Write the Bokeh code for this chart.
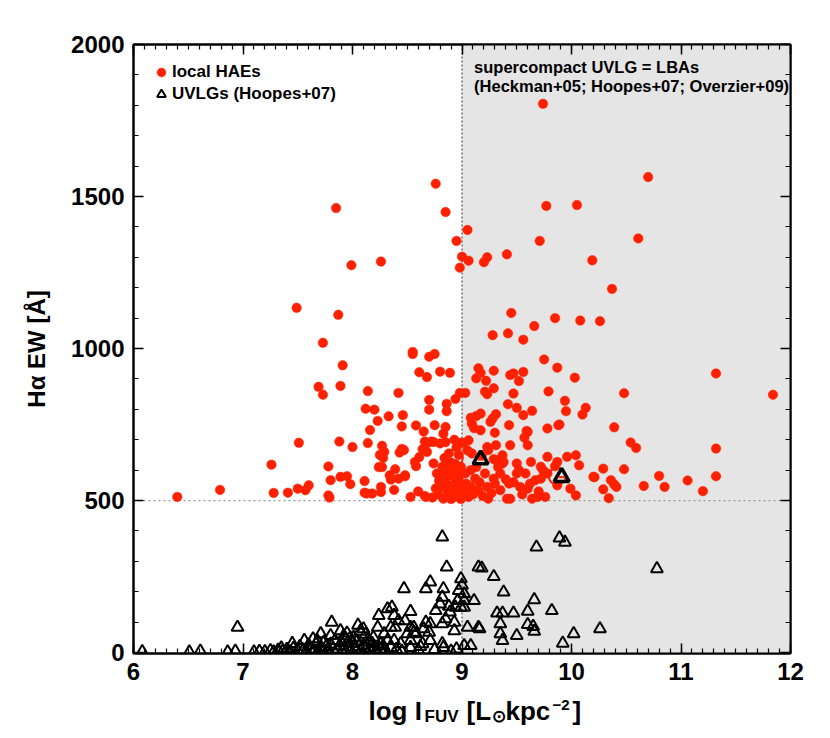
from bokeh.plotting import figure
from bokeh.layouts import column
from bokeh.models import (Range1d, LinearAxis, BoxAnnotation, Span, Label, Legend,
                          LegendItem, SingleIntervalTicker, CustomJSTickFormatter)
from bokeh.core.properties import value
from bokeh.embed import file_html
from bokeh.resources import INLINE

# ---------------- data ----------------
hae_x = [9.74, 10.70, 8.76, 7.85, 8.85, 9.77, 10.05, 9.05, 8.95, 9.71, 10.61, 9.00, 9.06, 8.98,
         9.23, 9.20, 7.99, 8.26, 9.41, 10.19, 10.37, 7.49, 7.87, 9.45, 9.85, 10.08, 10.26, 9.66,
         7.73, 9.28, 9.42, 9.56, 8.55, 8.55, 8.70, 8.75, 9.75, 9.87, 10.03, 11.32, 11.84, 10.48, 9.79,
         7.91, 7.69, 7.89, 7.73, 8.61, 8.68, 8.80, 8.89, 8.14, 8.42, 8.70, 8.86, 8.94, 8.98, 9.03,
         8.12, 8.20, 8.70, 8.86, 8.33, 8.46, 8.23,
         9.15, 9.17, 9.13, 9.22, 9.29, 9.21, 9.23, 9.29, 9.44, 9.47, 9.52, 9.56, 9.47, 9.94, 9.95,
         10.13, 10.10, 9.42, 9.50, 9.64, 9.56, 9.08, 9.13, 9.17, 9.28, 9.31,
         8.45, 8.58, 8.75, 8.85, 8.16, 8.65, 7.51, 7.88, 8.00, 8.14, 8.27, 8.29, 8.25, 8.28, 8.45,
         8.43, 8.66, 8.72, 8.85, 8.64, 8.68, 8.61, 8.57, 8.58, 7.26, 7.78, 8.24, 8.27, 8.39, 7.89,
         7.95, 7.80, 7.98, 8.11, 8.34, 8.35, 8.42, 8.48, 8.38, 8.26, 8.26, 7.60, 7.57, 7.50, 7.41,
         7.28, 6.79, 7.78, 7.79, 8.11, 8.18, 8.13, 8.53, 8.60, 8.66, 8.73, 6.40,
         8.83, 8.68, 8.74, 8.80, 8.47, 8.48, 8.67, 8.77, 8.74, 8.82, 8.83, 8.86, 8.89, 8.93, 8.96,
         8.97, 8.99, 8.83,
         8.78, 8.80, 8.85, 8.88, 8.90, 8.92, 8.95, 8.98, 8.99, 8.87, 8.91, 8.94, 8.79, 8.84, 8.88,
         8.97, 8.76, 8.92, 8.96, 8.81, 8.86, 8.98, 8.90, 8.95, 8.99, 8.93,
         9.09, 9.17, 9.26, 9.43, 9.60, 9.78, 9.88, 9.06, 9.23, 9.31, 9.44, 9.60, 9.09, 9.18, 9.31,
         9.38, 9.50, 9.63, 9.72, 9.78, 9.87, 9.96, 10.04, 10.07, 10.20, 9.03, 9.08, 9.12, 9.21, 9.29,
         9.35, 9.43, 9.50, 9.58, 9.67, 9.72, 9.78, 9.08, 9.15, 9.23, 9.35, 9.44, 9.53, 9.60, 9.69,
         9.76, 9.87, 9.99, 10.04, 9.06, 9.24, 9.41, 9.64,
         10.39, 10.54, 10.59, 11.32, 10.29, 10.48, 10.80, 11.32, 10.21, 10.36, 10.39, 10.41, 10.29,
         10.34, 10.66, 10.85, 11.06, 11.20,
         9.02, 9.05, 9.11, 9.30, 9.59, 9.57, 9.89, 9.24, 9.37, 9.37, 9.29, 9.85,
         9.02, 9.04, 9.10, 9.13, 9.16, 9.19, 9.27, 9.30, 9.33, 9.40, 9.47, 9.52, 9.55, 9.62, 9.70, 9.74]
hae_y = [1805, 1564, 1542, 1462, 1449, 1469, 1472, 1390, 1354, 1354, 1362, 1302, 1289, 1266,
         1300, 1284, 1274, 1286, 1310, 1290, 1196, 1134, 1111, 1117, 1100, 1092, 1090, 1074,
         1019, 1044, 1050, 1029, 989, 982, 973, 982, 964, 937, 904, 918, 848, 853, 859,
         945, 874, 877, 848, 922, 906, 924, 920, 860, 854, 831, 818, 834, 854, 854,
         802, 799, 799, 794, 777, 781, 762,
         935, 920, 902, 894, 927, 858, 850, 869, 913, 918, 893, 923, 852, 828, 794,
         805, 783, 817, 805, 795, 781, 772, 778, 786, 770, 784,
         744, 747, 748, 742, 732, 727, 690, 694, 676, 689, 680, 660, 650, 640, 670,
         658, 694, 694, 692, 669, 660, 643, 627, 613, 618, 612, 610, 610, 603, 578,
         580, 567, 554, 564, 583, 569, 572, 580, 535, 545, 528, 550, 534, 539, 526,
         525, 535, 517, 510, 526, 523, 523, 512, 530, 515, 510, 512,
         720, 688, 693, 688, 666, 583, 512, 589, 622, 611, 561, 534, 550, 512, 545,
         578, 611, 506,
         520, 545, 575, 600, 625, 580, 560, 530, 505, 515, 595, 620, 565, 640, 655,
         650, 540, 530, 600, 590, 620, 560, 505, 675, 690, 700,
         753, 731, 759, 748, 726, 737, 748, 698, 676, 682, 682, 682, 655, 649, 633,
         627, 622, 627, 611, 644, 627, 644, 649, 616, 578, 589, 600, 572, 589, 572,
         589, 556, 589, 589, 567, 572, 589, 545, 534, 545, 534, 506, 545, 539, 512,
         512, 550, 539, 517, 512, 506, 506, 506,
         741, 691, 673, 671, 605, 603, 581, 580, 577, 567, 553, 545, 537,
         508, 548, 545, 566, 531,
         690, 665, 738, 723, 729, 707, 750, 666, 649, 622, 636, 613,
         530, 555, 520, 610, 560, 515, 525, 555, 610, 570, 560, 600, 520, 555, 530, 600]

uvlg_x = [6.08, 6.51, 6.61, 6.86, 6.93, 6.95,
          7.20, 7.25, 7.28, 7.32, 7.36, 7.40, 7.43, 7.46, 7.50, 7.52, 7.55, 7.58, 7.60, 7.62, 7.65,
          7.67, 7.70, 7.72, 7.74, 7.76, 7.78, 7.80, 7.82, 7.84, 7.86, 7.88, 7.90, 7.92, 7.94, 7.96,
          7.98, 8.00, 8.02, 8.04, 8.06, 8.08, 8.10, 8.12, 8.14, 8.16, 8.18, 8.20, 8.22, 8.25, 8.28,
          8.30, 8.40, 8.45, 8.60, 8.62, 8.75, 8.90, 8.95, 7.10, 7.15, 7.35, 7.56, 7.64, 7.68, 7.45,
          7.81, 7.71, 7.80, 7.89, 7.95, 8.01, 8.10, 8.24, 8.32, 8.36, 8.38, 8.42, 8.35, 8.39, 8.23,
          8.29, 8.19, 8.32, 8.38, 8.26, 8.35, 8.47, 8.53, 8.48, 8.53, 8.56, 8.50, 8.53, 8.44, 8.53,
          8.67, 8.71, 8.82, 8.86, 8.83, 8.82, 8.80, 8.76, 8.88, 8.89, 8.85, 8.82, 8.93, 8.93, 8.67,
          8.71, 8.65, 8.70, 8.64, 8.71, 8.82, 8.83, 8.56, 8.58, 8.99, 9.00, 8.97, 9.02, 8.96, 9.02,
          9.02, 8.94, 8.99, 9.11, 9.05, 9.15, 9.15, 9.02, 9.08,
          9.18, 9.29, 9.38, 9.66, 9.82, 9.60, 9.47, 9.37, 9.32, 9.35, 9.35, 9.37, 9.50, 9.60, 9.65,
          9.66, 9.16, 9.68, 9.89, 9.94, 10.02, 9.92, 10.26, 10.78,
          8.05, 8.12, 8.15, 7.92, 7.98, 8.07]
uvlg_y = [3, 2, 5, 2, 5, 83,
          3, 6, 2, 8, 4, 10, 3, 14, 6, 20, 9, 3, 25, 12, 5,
          30, 15, 8, 35, 20, 3, 28, 12, 40, 6, 22, 33, 10, 45, 18,
          4, 30, 12, 38, 20, 6, 25, 15, 42, 8, 30, 18, 4, 12, 22,
          8, 10, 5, 8, 20, 10, 5, 12, 2, 4, 15, 40, 45, 38, 30,
          100, 62, 56, 72, 64, 50, 78, 122, 144, 149, 122, 105, 83, 83, 83,
          62, 50, 40, 40, 29, 17, 210, 135, 105, 83, 67, 62, 40, 29, 17,
          210, 232, 380, 281, 210, 182, 160, 138, 152, 133, 111, 95, 100, 72, 100,
          95, 78, 67, 29, 40, 29, 17, 83, 62, 243, 221, 204, 193, 171, 171,
          149, 149, 149, 171, 83, 83, 281, 23, 23,
          278, 250, 199, 174, 138, 136, 130, 130, 130, 95, 62, 40, 56, 92, 86,
          70, 78, 347, 377, 363, 62, 31, 78, 276,
          90, 60, 35, 55, 48, 70]

# supercompact UVLGs matched to local HAEs
lba_x = [9.17, 9.91]
lba_y = [635, 577]
ring_x = [8.93, 9.87]
ring_y = [641, 580]

x_ticks_interval = 1
y_ticks_interval = 500

RED = "#ff2000"
FONT = "Liberation Sans"

p = figure(width=822, height=692, x_range=Range1d(6, 12), y_range=Range1d(-3, 2000),
           output_backend="svg", toolbar_location=None, title=None,
           min_border_left=133, min_border_right=32, min_border_top=44, min_border_bottom=39)
p.grid.visible = False
p.outline_line_color = "black"
p.outline_line_width = 2
p.background_fill_color = "white"
p.border_fill_color = "white"

# shaded LBA region and guide lines
p.add_layout(BoxAnnotation(left=9, right=12, fill_color="#e5e5e5", fill_alpha=1.0,
                           line_color=None, level="underlay"))
p.add_layout(Span(location=9, dimension="height", line_color="#333333",
                  line_dash="2 2", line_width=1, level="underlay"))
p.add_layout(Span(location=500, dimension="width", line_color="#999999",
                  line_dash="2 3", line_width=1.2, level="underlay"))

r_hae = p.scatter(hae_x, hae_y, marker="circle", size=9.5, fill_color=RED, line_color=RED, line_width=0.5)
r_uv = p.scatter(uvlg_x, uvlg_y, marker="triangle", size=12, fill_color=None,
                 line_color="black", line_width=2)
p.scatter(ring_x, ring_y, marker="circle", size=17, fill_color=None, line_color=RED, line_width=2)
p.scatter(lba_x, lba_y, marker="triangle", size=15, fill_color=None, line_color="black", line_width=3.5)
p.scatter(lba_x, lba_y, marker="dash", size=6, line_color=RED, line_width=2)

# axes
def style_axis(ax, labels=True):
    ax.axis_line_width = 2
    ax.major_tick_in = 10
    ax.major_tick_out = 0
    ax.minor_tick_in = 5
    ax.minor_tick_out = 0
    ax.major_tick_line_width = 1.5
    ax.minor_tick_line_width = 1.2
    ax.major_label_text_font = FONT
    ax.major_label_text_font_style = "bold"
    ax.major_label_text_font_size = "24px"
    ax.major_label_text_color = "black"
    if not labels:
        ax.formatter = CustomJSTickFormatter(code="return ''")

p.xaxis.ticker = SingleIntervalTicker(interval=x_ticks_interval, num_minor_ticks=10)
p.yaxis.ticker = SingleIntervalTicker(interval=y_ticks_interval, num_minor_ticks=5)
style_axis(p.xaxis[0])
style_axis(p.yaxis[0])
p.xaxis.major_label_standoff = 9
p.yaxis.major_label_standoff = 9
p.yaxis.axis_label = "Hα EW [Å]"
p.yaxis.axis_label_text_font = FONT
p.yaxis.axis_label_text_font_style = "bold"
p.yaxis.axis_label_text_font_size = "24px"
p.yaxis.axis_label_text_color = "black"
p.yaxis.axis_label_standoff = 18

top = LinearAxis(ticker=SingleIntervalTicker(interval=x_ticks_interval, num_minor_ticks=10))
right = LinearAxis(ticker=SingleIntervalTicker(interval=y_ticks_interval, num_minor_ticks=5))
style_axis(top, labels=False)
style_axis(right, labels=False)
p.add_layout(top, "above")
p.add_layout(right, "right")

# annotation for shaded region
for yy, t in [(1927, "supercompact UVLG = LBAs"), (1863, "(Heckman+05; Hoopes+07; Overzier+09)")]:
    p.add_layout(Label(x=9.11, y=yy, text=t, text_font=FONT, text_font_style="bold",
                       text_font_size="16.5px", text_baseline="middle", text_color="black"))

legend = Legend(items=[LegendItem(label="local HAEs", renderers=[r_hae]),
                       LegendItem(label="UVLGs (Hoopes+07)", renderers=[r_uv])],
                location="top_left", margin=17, padding=11, spacing=-9,
                glyph_width=22, glyph_height=22, label_standoff=0,
                label_text_font=FONT, label_text_font_style="bold", label_text_font_size="17px",
                label_text_color="black",
                border_line_color=None, background_fill_alpha=0)
p.add_layout(legend)

# x-axis title strip below the plot (sub/superscripts assembled from pieces)
t = figure(width=822, height=46, x_range=p.x_range, y_range=Range1d(0, 46),
           output_backend="svg", toolbar_location=None, title=None,
           x_axis_location=None, y_axis_location=None, min_border=0,
           min_border_left=133, min_border_right=32, min_border_top=0, min_border_bottom=0)
t.grid.visible = False
t.outline_line_color = None
t.background_fill_color = "white"
t.border_fill_color = "white"

# (text, horizontal offset in px from the x=6 edge, vertical position in px, font size)
pieces = [("log I", 235, 28, "26px"), ("FUV", 291, 22, "17px"), ("[L", 333, 28, "26px"),
          ("⊙", 358, 22, "17px"), ("kpc", 372, 28, "26px"), ("−2", 419, 34, "15px"),
          ("]", 439, 28, "26px")]
for txt, dx, py, fs in pieces:
    t.text(x=[6], y=[py], text=[txt], x_offset=dx, text_font=value(FONT), text_font_style="bold",
           text_font_size=fs, text_color="black", text_baseline="alphabetic", text_align="left")

layout = column(p, t, spacing=0)
open("out.html", "w").write(file_html(layout, INLINE))
